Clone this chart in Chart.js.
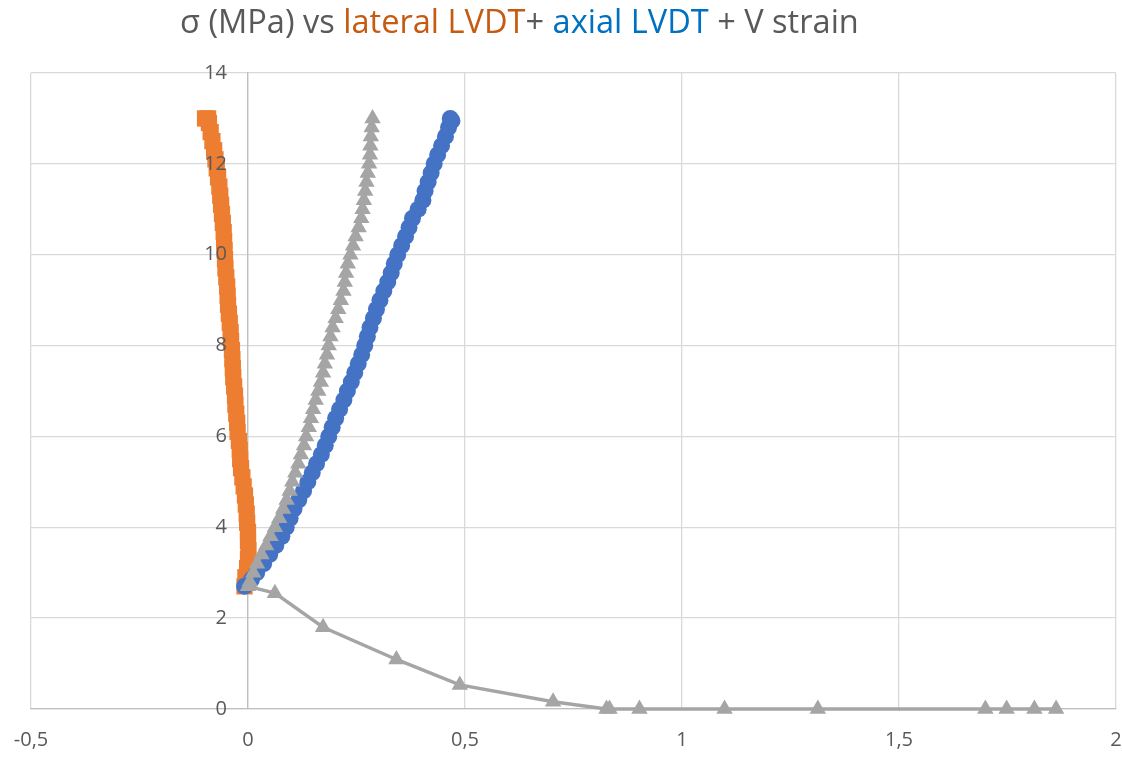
<!DOCTYPE html>
<html>
<head>
<meta charset="utf-8">
<script src="https://cdn.jsdelivr.net/npm/chart.js@4.4.1/dist/chart.umd.min.js"></script>
<style>
  html, body { margin: 0; padding: 0; background: #ffffff; }
  #wrap { width: 1122px; height: 757px; }
</style>
</head>
<body>
<div id="wrap"><canvas id="c" width="1122" height="757"></canvas></div>
<script>
// ---- Title pieces ----
const titleTexts = ["\u03C3 (MPa) vs ", "lateral LVDT", "+ ", "axial LVDT", " + V strain"];
const titleColors = ["#595959", "#C55A11", "#595959", "#0070C0", "#595959"];

// ---- Axis ticks ----
const xTicks = [-0.5, 0, 0.5, 1, 1.5, 2];
const yTicks = [0, 2, 4, 6, 8, 10, 12, 14];

// ---- Series: lateral LVDT (orange) ----
const lateralY = [2.70,2.90,3.10,3.30,3.50,3.70,3.90,4.10,4.30,4.50,4.70,4.90,5.10,5.30,5.50,5.70,5.90,6.10,6.30,6.50,6.70,6.90,7.10,7.30,7.50,7.70,7.90,8.10,8.30,8.50,8.70,8.90,9.10,9.30,9.50,9.70,9.90,10.10,10.30,10.50,10.70,10.90,11.10,11.30,11.50,11.70,11.90,12.10,12.30,12.50,12.70,12.90,13.00,13.00];
const lateralX = [-0.008,-0.006,-0.002,0.000,0.001,0.000,0.000,-0.002,-0.003,-0.005,-0.007,-0.010,-0.013,-0.016,-0.018,-0.019,-0.021,-0.024,-0.025,-0.027,-0.029,-0.030,-0.032,-0.034,-0.035,-0.036,-0.037,-0.039,-0.040,-0.042,-0.044,-0.046,-0.047,-0.048,-0.050,-0.052,-0.053,-0.054,-0.055,-0.056,-0.058,-0.060,-0.062,-0.064,-0.066,-0.069,-0.072,-0.075,-0.078,-0.082,-0.086,-0.090,-0.092,-0.099];

// ---- Series: axial LVDT (blue) ----
const axialY = [2.70,2.85,3.00,3.20,3.40,3.60,3.80,4.00,4.20,4.40,4.60,4.80,5.00,5.20,5.40,5.60,5.80,6.00,6.20,6.40,6.60,6.80,7.00,7.20,7.40,7.60,7.80,8.00,8.20,8.40,8.60,8.80,9.00,9.20,9.40,9.60,9.80,10.00,10.20,10.40,10.60,10.80,11.00,11.20,11.40,11.60,11.80,12.00,12.20,12.40,12.60,12.80,12.95,13.00];
const axialX = [-0.008,0.008,0.020,0.036,0.050,0.064,0.078,0.088,0.097,0.106,0.117,0.128,0.138,0.148,0.158,0.169,0.178,0.186,0.194,0.202,0.211,0.221,0.229,0.238,0.246,0.254,0.262,0.269,0.275,0.281,0.289,0.296,0.304,0.313,0.322,0.330,0.337,0.345,0.354,0.363,0.371,0.379,0.392,0.403,0.408,0.415,0.422,0.429,0.437,0.446,0.455,0.462,0.470,0.466];

// ---- Series: V strain (gray) : descending branch then rising branch ----
const vStrainX = [1.862,1.812,1.748,1.699,1.313,1.098,0.902,0.833,0.826,0.703,0.488,0.342,0.173,0.062,
  0.000,0.004,0.012,0.021,0.031,0.042,0.052,0.062,0.072,0.081,0.089,0.096,0.102,0.109,0.116,0.122,0.129,0.134,0.140,0.145,0.150,0.156,0.162,0.168,0.173,0.177,0.182,0.186,0.190,0.195,0.202,0.208,0.214,0.220,0.223,0.226,0.230,0.236,0.242,0.248,0.255,0.261,0.264,0.267,0.270,0.273,0.276,0.279,0.281,0.282,0.283,0.285,0.287];
const vStrainY = [0.00,0.00,0.00,0.00,0.00,0.00,0.00,0.00,0.00,0.16,0.53,1.09,1.80,2.55,
  2.70,2.80,3.00,3.20,3.40,3.60,3.80,4.00,4.20,4.40,4.60,4.80,5.00,5.20,5.40,5.60,5.80,6.00,6.20,6.40,6.60,6.80,7.00,7.20,7.40,7.60,7.80,8.00,8.20,8.40,8.60,8.80,9.00,9.20,9.40,9.60,9.80,10.00,10.20,10.40,10.60,10.80,11.00,11.20,11.40,11.60,11.80,12.00,12.20,12.40,12.60,12.80,13.00];

function pts(xs, ys) { return xs.map((x, i) => ({ x: x, y: ys[i] })); }
function fmt(v) { return String(Math.round(v * 10) / 10).replace('.', ','); }

const FONT = '"Open Sans", "Noto Sans", sans-serif';

const titlePlugin = {
  id: 'multiTitle',
  afterDraw(chart) {
    const ctx = chart.ctx;
    ctx.save();
    let size = 28;
    ctx.font = size + 'px ' + FONT;
    const w = ctx.measureText(titleTexts.join('')).width;
    size = size * 679 / w;
    ctx.font = size + 'px ' + FONT;
    ctx.textBaseline = 'alphabetic';
    ctx.textAlign = 'left';
    let x = 180;
    titleTexts.forEach((t, i) => {
      ctx.fillStyle = titleColors[i];
      ctx.fillText(t, x, 33);
      x += ctx.measureText(t).width;
    });
    ctx.restore();
  }
};

const bgPlugin = {
  id: 'bg',
  beforeDraw(chart) {
    const ctx = chart.ctx;
    ctx.save();
    ctx.fillStyle = '#ffffff';
    ctx.fillRect(0, 0, chart.width, chart.height);
    ctx.restore();
  }
};

// y labels sit left of the axis that crosses at x = 0
const yLabelGap = 21;
const yLabelShift = {
  id: 'yLabelShift',
  beforeDraw(chart) {
    const s = chart.scales.y;
    const items = s.getLabelItems(chart.chartArea);
    if (!items._shifted) {
      items.forEach(it => { it.options.translation[0] -= yLabelGap; });
      items._shifted = true;
    }
  }
};

new Chart(document.getElementById('c'), {
  type: 'scatter',
  data: {
    datasets: [
      {
        label: 'lateral LVDT',
        data: pts(lateralX, lateralY),
        showLine: true,
        borderColor: '#ED7D31',
        backgroundColor: '#ED7D31',
        borderWidth: 3,
        pointStyle: 'rect',
        pointRadius: 11.5,
        pointBorderWidth: 0,
        pointBackgroundColor: '#ED7D31',
        clip: false,
        order: 3
      },
      {
        label: 'axial LVDT',
        data: pts(axialX, axialY),
        showLine: true,
        borderColor: '#4472C4',
        backgroundColor: '#4472C4',
        borderWidth: 3,
        pointStyle: 'circle',
        pointRadius: 8.5,
        pointBorderWidth: 0,
        pointBackgroundColor: '#4472C4',
        clip: false,
        order: 2
      },
      {
        label: 'V strain',
        data: pts(vStrainX, vStrainY),
        showLine: true,
        borderColor: '#A5A5A5',
        backgroundColor: '#A5A5A5',
        borderWidth: 3.5,
        pointStyle: 'triangle',
        pointRadius: 9.5,
        pointBorderWidth: 0,
        pointBackgroundColor: '#A5A5A5',
        clip: false,
        order: 1
      }
    ]
  },
  options: {
    responsive: false,
    animation: false,
    devicePixelRatio: 1,
    layout: { autoPadding: false, padding: { left: 31, right: 6, top: 73, bottom: 5 } },
    plugins: {
      legend: { display: false },
      title: { display: false },
      tooltip: { enabled: false }
    },
    elements: { line: { tension: 0 } },
    scales: {
      x: {
        type: 'linear',
        position: 'bottom',
        min: xTicks[0],
        max: xTicks[xTicks.length - 1],
        afterBuildTicks(scale) { scale.ticks = xTicks.map(v => ({ value: v })); },
        afterFit(scale) { scale.paddingLeft = 0; scale.paddingRight = 0; },
        grid: { color: '#D9D9D9', lineWidth: 1.3, drawTicks: true, tickLength: 19, tickColor: 'rgba(0,0,0,0)' },
        border: { display: true, color: '#BFBFBF', width: 1.3 },
        ticks: {
          padding: 0,
          color: '#595959',
          font: { family: FONT, size: 20 },
          maxRotation: 0,
          autoSkip: false,
          callback: (v) => fmt(v)
        }
      },
      y: {
        type: 'linear',
        position: { x: 0 },
        min: yTicks[0],
        max: yTicks[yTicks.length - 1],
        afterBuildTicks(scale) { scale.ticks = yTicks.map(v => ({ value: v })); },
        grid: { color: '#D9D9D9', lineWidth: 1.3, drawTicks: false },
        border: { display: true, color: '#BFBFBF', width: 1.3 },
        ticks: {
          z: 1,
          padding: 0,
          color: '#595959',
          font: { family: FONT, size: 20 },
          autoSkip: false,
          callback: (v) => fmt(v)
        }
      }
    }
  },
  plugins: [bgPlugin, yLabelShift, titlePlugin]
});
</script>
</body>
</html>
